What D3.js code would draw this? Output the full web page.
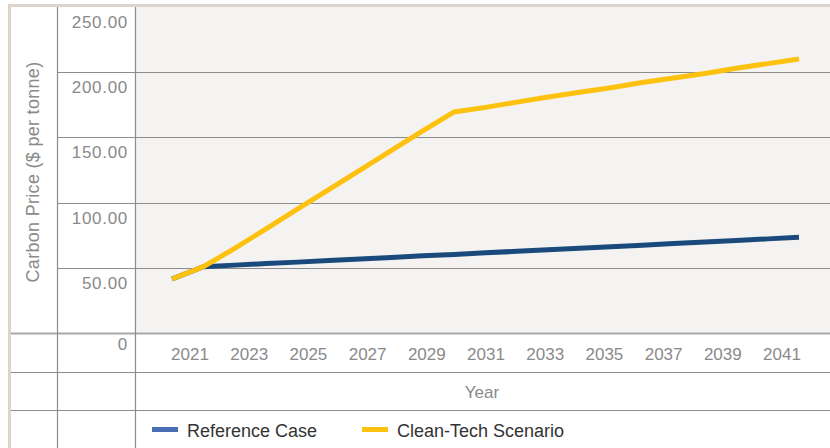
<!DOCTYPE html>
<html lang="en">
<head>
    <meta charset="UTF-8">
    <title>Carbon Price</title>
    <style>
      body { margin: 0; background: #fff; }
      svg { display: block; font-family: "Liberation Sans", Arial, sans-serif; }
    </style>
</head>
<body>
    <svg></svg>
    <script src="https://d3js.org/d3.v7.min.js"></script>
    <script>
    // values
    const years = [2021, 2022, 2023, 2024, 2025, 2026, 2027, 2028, 2029, 2030, 2031,
                   2032, 2033, 2034, 2035, 2036, 2037, 2038, 2039, 2040, 2041];
    const referenceCase = [41.6, 51, 52.2, 53.4, 54.5, 55.7, 56.9, 58.1, 59.3, 60.4, 61.6,
                           62.8, 64, 65.2, 66.3, 67.5, 68.7, 69.9, 71.1, 72.3, 73.5];
    const cleanTech = [41.6, 51, 65, 80, 95, 110, 125, 140, 155, 169.5, 173,
                       177, 181, 184.5, 188, 192, 195.5, 199, 203, 206.5, 210];
    const yTicks = [0, 50, 100, 150, 200, 250];
    const xTickLabels = ['2021', '2023', '2025', '2027', '2029', '2031', '2033', '2035', '2037', '2039', '2041'];
    const seriesNames = ['Reference Case', 'Clean-Tech Scenario'];

    const W = 830, H = 448;
    const lineCol = '#8c8c8c';
    const textCol = '#8a8a8a';

    const svg = d3.select('svg').attr('width', W).attr('height', H);

    const x = d3.scaleLinear().domain([2021, 2041]).range([172, 799]);
    const y = d3.scaleLinear().domain([0, 250]).range([333.3, 6.8]);
    const xLab = d3.scalePoint().domain(xTickLabels).range([190, 782]);

    // plot background
    svg.append('rect')
      .attr('x', 135).attr('y', y(250))
      .attr('width', W - 135).attr('height', y(0) - y(250))
      .attr('fill', '#f4f3f1');

    // gridlines
    svg.selectAll('.grid')
      .data(yTicks.filter(d => d > 0 && d < 250))
      .enter().append('line')
      .attr('x1', 57).attr('x2', W)
      .attr('y1', d => Math.round(y(d)) + 0.5).attr('y2', d => Math.round(y(d)) + 0.5)
      .attr('stroke', lineCol).attr('stroke-width', 1);

    // table rows below the plot
    [333.5, 372.5, 410.5].forEach((r, i) => {
      svg.append('line')
        .attr('x1', 10).attr('x2', W).attr('y1', r).attr('y2', r)
        .attr('stroke', i === 0 ? '#a8a8a8' : lineCol)
        .attr('stroke-width', i === 0 ? 2 : 1.2);
    });

    // vertical dividers
    [57.5, 135.5].forEach(c => {
      svg.append('line')
        .attr('x1', c).attr('x2', c).attr('y1', 7).attr('y2', H)
        .attr('stroke', lineCol).attr('stroke-width', 1.2);
    });

    // frame on top and left
    svg.append('rect').attr('x', 8).attr('y', 4).attr('width', W - 8).attr('height', 3).attr('fill', '#ddd5cc');
    svg.append('rect').attr('x', 8).attr('y', 4).attr('width', 3).attr('height', H - 4).attr('fill', '#ddd5cc');

    // y tick labels (under each gridline)
    svg.selectAll('.ytick')
      .data(yTicks)
      .enter().append('text')
      .attr('x', 128)
      .attr('y', d => y(d) + (d === 0 ? 17 : 21))
      .attr('text-anchor', 'end')
      .attr('font-size', 17)
      .attr('letter-spacing', 0.7)
      .attr('fill', textCol)
      .text(d => d === 0 ? '0' : d3.format('.2f')(d));

    // x tick labels
    svg.selectAll('.xtick')
      .data(xTickLabels)
      .enter().append('text')
      .attr('x', d => xLab(d))
      .attr('y', 360)
      .attr('text-anchor', 'middle')
      .attr('font-size', 17)
      .attr('fill', textCol)
      .text(d => d);

    // axis titles
    svg.append('text')
      .attr('x', 482).attr('y', 398)
      .attr('text-anchor', 'middle')
      .attr('font-size', 17)
      .attr('fill', textCol)
      .text('Year');

    svg.append('text')
      .attr('transform', 'translate(39,172) rotate(-90)')
      .attr('text-anchor', 'middle')
      .attr('font-size', 18)
      .attr('letter-spacing', 0.3)
      .attr('fill', textCol)
      .text('Carbon Price ($ per tonne)');

    // lines
    const line = d3.line()
      .x((d, i) => x(years[i]))
      .y(d => y(d));

    svg.append('path')
      .datum(referenceCase)
      .attr('d', line)
      .attr('fill', 'none')
      .attr('stroke', '#1a4a7c')
      .attr('stroke-width', 5);

    svg.append('path')
      .datum(cleanTech)
      .attr('d', line)
      .attr('fill', 'none')
      .attr('stroke', '#fdc20f')
      .attr('stroke-width', 5);

    // legend
    const legendCols = ['#4a6fb5', '#fdc20f'];
    const legendX = [152, 362];
    seriesNames.forEach((name, i) => {
      svg.append('rect')
        .attr('x', legendX[i]).attr('y', 427)
        .attr('width', 26).attr('height', 5)
        .attr('fill', legendCols[i]);
      svg.append('text')
        .attr('x', legendX[i] + 35).attr('y', 437)
        .attr('font-size', 18)
        .attr('fill', '#333')
        .text(name);
    });
    </script>
</body>
</html>
